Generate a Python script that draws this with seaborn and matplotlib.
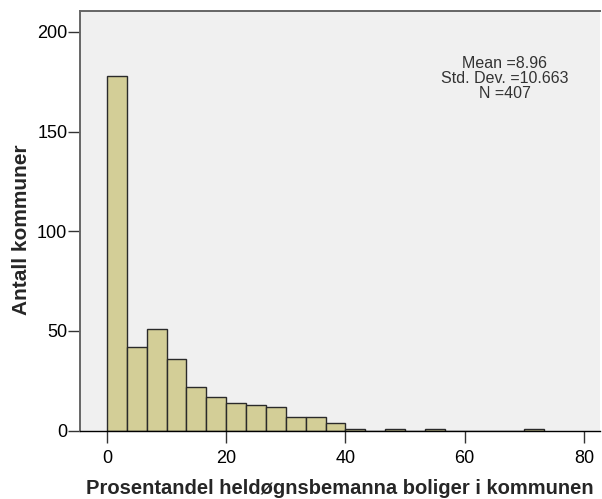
import numpy as np
import pandas as pd
import matplotlib
matplotlib.use("Agg")
import matplotlib.pyplot as plt
import seaborn as sns

# Histogram counts per bin (bin width 10/3, starting at 0)
bin_width = 10 / 3
counts = [178, 42, 51, 36, 22, 17, 14, 13, 12, 7, 7, 4,
          1, 0, 1, 0, 1, 0, 0, 0, 0, 1]
x_ticks = [0, 20, 40, 60, 80]
y_ticks = [0, 50, 100, 150, 200]
stats_text = "Mean =8.96\nStd. Dev. =10.663\nN =407"
x_label = "Prosentandel heldøgnsbemanna boliger i kommunen"
y_label = "Antall kommuner"

edges = [i * bin_width for i in range(len(counts) + 1)]
df = pd.DataFrame({"pct": [e + bin_width / 2 for e in edges[:-1]],
                   "n": counts})

sns.set_style("white")
plt.rcParams['font.family'] = ['Liberation Sans', 'DejaVu Sans']

fig = plt.figure(figsize=(6.02, 4.99), dpi=100)
ax = fig.add_axes([0.1329, 0.137, 0.8638, 0.841])
ax.set_facecolor("#F0F0F0")

sns.histplot(data=df, x="pct", weights="n", bins=edges, ax=ax,
             color="#D3CE97", alpha=1, edgecolor="#2a2a2a", linewidth=1)

ax.set_xlim(-4.53, 82.7)
ax.set_ylim(0, 210.5)
ax.set_xticks(x_ticks)
ax.set_yticks(y_ticks)
ax.tick_params(axis="both", direction="out", length=8.6, width=1,
               color="#333333", labelsize=13, labelcolor="black",
               bottom=True, left=True)
ax.tick_params(axis="x", pad=5)
ax.tick_params(axis="y", pad=0.5)

for side in ["left", "top"]:
    ax.spines[side].set_color("#666666")
    ax.spines[side].set_linewidth(1.4)
ax.spines["bottom"].set_color("black")
ax.spines["bottom"].set_linewidth(1)
ax.spines["right"].set_visible(False)

ax.set_xlabel(x_label, fontsize=14.5, fontweight="bold", labelpad=9)
ax.set_ylabel(y_label, fontsize=15, fontweight="bold")
ax.yaxis.set_label_coords(-0.095, 0.478)

ax.text(0.817, 0.84, stats_text, transform=ax.transAxes, ha="center",
        va="center", fontsize=11.5, color="#333333", linespacing=1.0)

fig.savefig("out.png", dpi=100)
